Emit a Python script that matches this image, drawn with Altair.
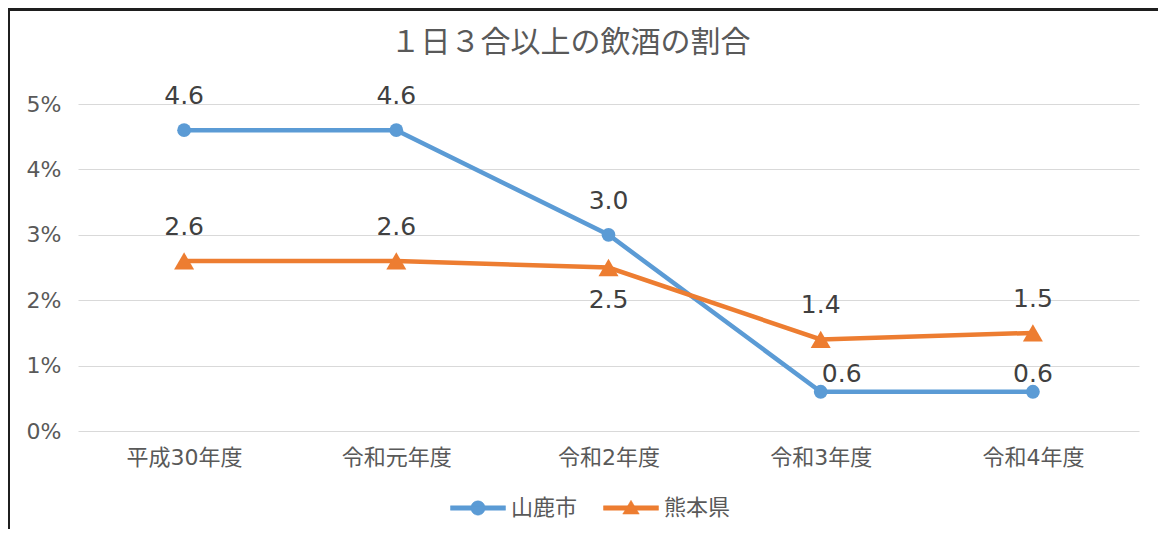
import altair as alt
import pandas as pd

# ---- data ----
years = ["平成30年度", "令和元年度", "令和2年度", "令和3年度", "令和4年度"]
series_names = ["山鹿市", "熊本県"]
yamaga = [4.6, 4.6, 3.0, 0.6, 0.6]
kumamoto = [2.6, 2.6, 2.5, 1.4, 1.5]
# data label placement (Excel-like manual placements)
yamaga_label_pos = ["above", "above", "above", "near_right", "near"]
kumamoto_label_pos = ["above", "above", "below", "above", "above"]
y_ticks = [0, 1, 2, 3, 4, 5]

rows = []
for s, vals, pos in [(series_names[0], yamaga, yamaga_label_pos),
                     (series_names[1], kumamoto, kumamoto_label_pos)]:
    for yr, v, p in zip(years, vals, pos):
        rows.append({"year": yr, "series": s, "value": v, "pos": p})
df = pd.DataFrame(rows)

BLUE = "#5B9BD5"
ORANGE = "#ED7D31"
NUM_FONT = "DejaVu Sans, Noto Sans CJK JP"
CJK_FONT = "Noto Sans CJK JP"
W, H = 1061, 327

x_enc = alt.X("year:N", sort=years,
              scale=alt.Scale(type="point", padding=0.5),
              axis=alt.Axis(title=None, labelAngle=0, domain=False, ticks=False, grid=False,
                            labelFontSize=22, labelColor="#595959", labelFont=NUM_FONT,
                            labelPadding=16))
y_enc = alt.Y("value:Q", scale=alt.Scale(domain=[0, 5], nice=False),
              axis=alt.Axis(title=None, values=y_ticks, labelExpr="datum.value + '%'",
                            domain=False, ticks=False, gridColor="#d9d9d9", gridWidth=1.2,
                            labelFontSize=22, labelColor="#595959", labelFont=NUM_FONT,
                            labelPadding=17))

# custom legend symbols: line + marker (unit coords, scaled by sqrt(size)/2)
circle_sym = ("M-1,-0.08 L1,-0.08 L1,0.08 L-1,0.08 Z "
              "M-0.26,0 A0.26,0.26 0 1,1 0.26,0 A0.26,0.26 0 1,1 -0.26,0 Z")
tri_sym = ("M-1,-0.08 L1,-0.08 L1,0.08 L-1,0.08 Z "
           "M-0.3,0.22 L0,-0.28 L0.3,0.22 Z")

common_legend = dict(title=None, orient="none", direction="horizontal",
                     labelFontSize=22, labelColor="#595959", labelFont=CJK_FONT,
                     symbolSize=3025, labelOffset=5, symbolOpacity=1,
                     symbolStrokeWidth=0.5, padding=0)

stroke_enc = alt.Stroke(
    "series:N", scale=alt.Scale(domain=series_names, range=[BLUE, ORANGE]),
    legend=alt.Legend(values=[series_names[0]], symbolType=circle_sym,
                      symbolFillColor=BLUE, legendX=372, legendY=376, **common_legend))
fill_enc = alt.Fill(
    "series:N", scale=alt.Scale(domain=series_names[::-1], range=[ORANGE, BLUE]),
    legend=alt.Legend(values=[series_names[1]], symbolType=tri_sym,
                      symbolStrokeColor=ORANGE, legendX=525, legendY=376, **common_legend))

base = alt.Chart(df)

lines = base.mark_line(strokeWidth=4.5).encode(x=x_enc, y=y_enc, stroke=stroke_enc, detail="series:N")

pts_blue = base.transform_filter(alt.datum.series == series_names[0]).mark_point(
    filled=True, opacity=1, strokeWidth=0, shape="circle", size=190
).encode(x=x_enc, y=y_enc, fill=fill_enc)
pts_orange = base.transform_filter(alt.datum.series == series_names[1]).mark_point(
    filled=True, opacity=1, strokeWidth=0, shape="triangle-up", size=400
).encode(x=x_enc, y=y_enc, fill=fill_enc)

def labels(pos, dx, dy):
    return base.transform_filter(alt.datum.pos == pos).mark_text(
        dx=dx, dy=dy, fontSize=25, font=NUM_FONT, color="#404040", baseline="middle"
    ).encode(x=x_enc, y=y_enc, text=alt.Text("value:Q", format=".1f"))

lab_above = labels("above", 0, -34)
lab_below = labels("below", 0, 32)
lab_near = labels("near", 0, -18)
lab_near_r = labels("near_right", 21, -18)

border_left = alt.Chart(df).mark_rule(color="#1f1f1f", strokeWidth=2).encode(
    x=alt.value(-69), y=alt.value(-96), y2=alt.value(H + 100))
border_top = alt.Chart(df).mark_rule(color="#1f1f1f", strokeWidth=2).encode(
    x=alt.value(-70), x2=alt.value(W + 20), y=alt.value(-94.5))

chart = alt.layer(lines, pts_blue, pts_orange, lab_above, lab_below, lab_near, lab_near_r,
                  border_left, border_top).properties(
    width=W, height=H,
    background="white",
    title=alt.TitleParams("１日３合以上の飲酒の割合", fontSize=30, color="#595959",
                          font=CJK_FONT, fontWeight="normal", offset=-51, dx=-38,
                          frame="group"),
    autosize=alt.AutoSizeParams(type="none"),
    padding={"left": 70, "top": 96, "right": 19, "bottom": 98},
).configure_view(stroke=None, strokeWidth=0)

chart.save("out.html", embed_options={"renderer": "svg", "actions": False})
